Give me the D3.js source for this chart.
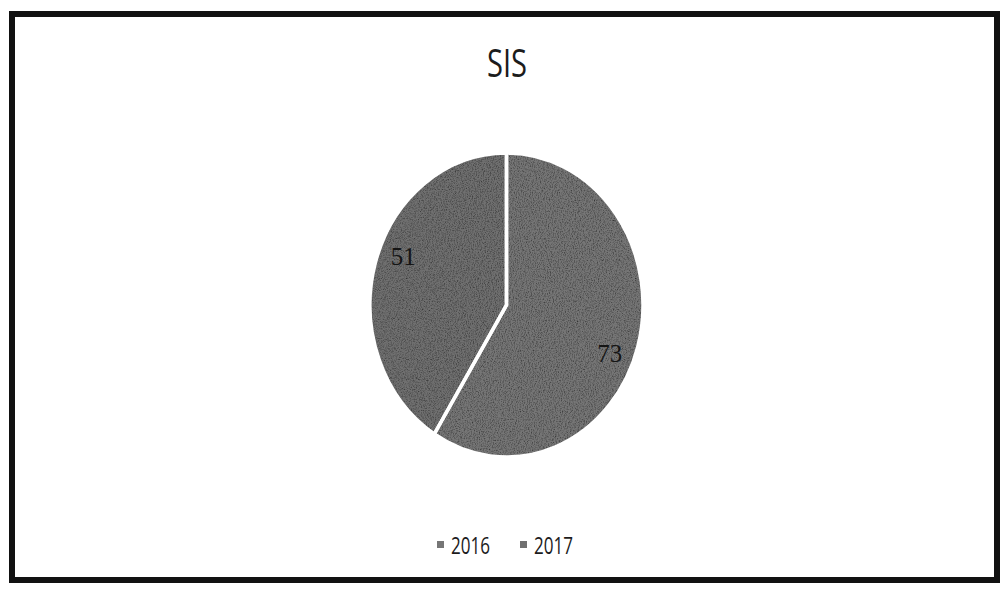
<!DOCTYPE html>
<html>
<head>
<meta charset="utf-8">
<script src="https://cdn.jsdelivr.net/npm/d3@7/dist/d3.min.js"></script>
<style>
  html, body { margin: 0; padding: 0; background: #fff; }
  svg { display: block; }
</style>
</head>
<body>
<svg id="chart" width="1000" height="590"></svg>
<script>
// Chart data
const title = "SIS";
const categories = ["2016", "2017"];
const values = [73, 51];
const sliceColors = ["#767676", "#707070"];

const W = 1000, H = 590;
const svg = d3.select("#chart");

// Grain filter for the printed-looking fill
const defs = svg.append("defs");
const grain = defs.append("filter").attr("id", "grain")
  .attr("x", 0).attr("y", 0).attr("width", "100%").attr("height", "100%");
grain.append("feTurbulence").attr("type", "fractalNoise")
  .attr("baseFrequency", 0.9).attr("numOctaves", 2).attr("seed", 4).attr("result", "noise");
grain.append("feColorMatrix").attr("in", "noise").attr("type", "matrix")
  .attr("values", "0 0 0 0 0  0 0 0 0 0  0 0 0 0 0  0 0 0 -1.6 0.95")
  .attr("result", "dark");
grain.append("feComposite").attr("in", "dark").attr("in2", "SourceGraphic")
  .attr("operator", "in").attr("result", "darkIn");
grain.append("feMerge").selectAll("feMergeNode")
  .data(["SourceGraphic", "darkIn"]).join("feMergeNode").attr("in", d => d);

// Frame
svg.append("rect")
  .attr("x", 12).attr("y", 14).attr("width", 985).attr("height", 566)
  .attr("fill", "#fff").attr("stroke", "#111").attr("stroke-width", 6);

// Title
svg.append("text")
  .attr("x", 507).attr("y", 77)
  .attr("text-anchor", "middle")
  .attr("font-family", "'Open Sans', 'DejaVu Sans', sans-serif")
  .attr("font-size", 38)
  .attr("fill", "#1c1c1c")
  .attr("textLength", 40).attr("lengthAdjust", "spacingAndGlyphs")
  .text(title);

// Pie geometry (slightly taller than wide)
const cx = 506.5, cy = 305, ry = 152, rx = 136.5;
const sx = rx / ry;

const pie = d3.pie().sort(null).value(d => d.value);
const arcs = pie(categories.map((c, i) => ({ cat: c, value: values[i], color: sliceColors[i] })));
const arc = d3.arc().innerRadius(0).outerRadius(ry);
const labelArc = d3.arc().innerRadius(ry * 0.82).outerRadius(ry * 0.82);

const g = svg.append("g")
  .attr("transform", `translate(${cx},${cy}) scale(${sx},1)`);

g.selectAll("path.slice")
  .data(arcs)
  .join("path")
  .attr("class", "slice")
  .attr("d", arc)
  .attr("fill", d => d.data.color)
  .attr("filter", "url(#grain)");

// White separators between slices
g.selectAll("path.sep")
  .data(arcs)
  .join("path")
  .attr("class", "sep")
  .attr("d", arc)
  .attr("fill", "none")
  .attr("stroke", "#fff")
  .attr("stroke-width", 3.5)
  .attr("vector-effect", "non-scaling-stroke");

// Cover the outer rim stroke so only radial separators show
g.append("circle").attr("r", ry + 3)
  .attr("fill", "none").attr("stroke", "#fff").attr("stroke-width", 6);

// Value labels (nudged slightly clockwise from the slice centroid)
svg.selectAll("text.val")
  .data(arcs)
  .join("text")
  .attr("class", "val")
  .attr("x", d => {
    const a = (d.startAngle + d.endAngle) / 2 + 0.12;
    return cx + Math.sin(a) * ry * 0.82 * sx;
  })
  .attr("y", d => {
    const a = (d.startAngle + d.endAngle) / 2 + 0.12;
    return cy - Math.cos(a) * ry * 0.82;
  })
  .attr("text-anchor", "middle")
  .attr("dominant-baseline", "central")
  .attr("font-family", "'Liberation Serif', 'DejaVu Serif', serif")
  .attr("font-size", 25)
  .attr("fill", "#151515")
  .text(d => d.data.value);

// Legend
const legendX = d3.scalePoint().domain(categories).range([437, 520]);
const lg = svg.append("g");
const items = lg.selectAll("g").data(categories.map((c, i) => ({ cat: c, color: sliceColors[i] })))
  .join("g")
  .attr("transform", d => `translate(${legendX(d.cat)},545)`);
items.append("rect")
  .attr("x", 0).attr("y", -4).attr("width", 7).attr("height", 7)
  .attr("fill", d => d.color);
items.append("text")
  .attr("x", 14).attr("y", 0)
  .attr("dominant-baseline", "central")
  .attr("font-family", "'Open Sans', 'DejaVu Sans', sans-serif")
  .attr("font-size", 23)
  .attr("fill", "#1c1c1c")
  .attr("textLength", 39).attr("lengthAdjust", "spacingAndGlyphs")
  .text(d => d.cat);
</script>
</body>
</html>
